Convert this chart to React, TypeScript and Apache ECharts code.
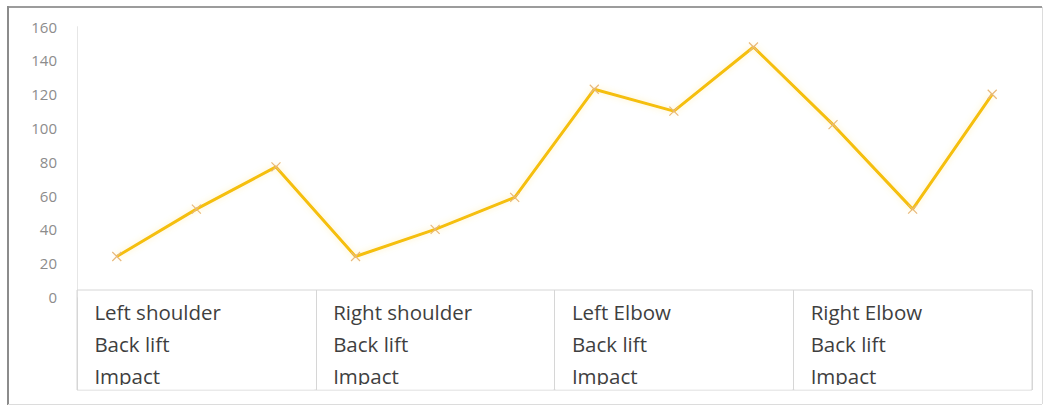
import React, { useEffect, useRef } from "react";
import * as echarts from "echarts";

// Joint groups along the bottom and the phases listed under each group name
const groups = ["Left shoulder", "Right shoulder", "Left Elbow", "Right Elbow"];
const phaseLines = ["Back lift", "Impact"];

// Three measurements per joint group
const points = [
  "LS-1", "LS-2", "LS-3",
  "RS-1", "RS-2", "RS-3",
  "LE-1", "LE-2", "LE-3",
  "RE-1", "RE-2", "RE-3",
];
const angles = [24, 52, 77, 24, 40, 59, 123, 110, 148, 102, 52, 120];

const yMin = 0;
const yMax = 160;
const yStep = 20;

const W = 1048;
const H = 409;

export default function App() {
  const ref = useRef<HTMLDivElement>(null);

  useEffect(() => {
    if (!ref.current) return;
    const chart = echarts.init(ref.current, null, { renderer: "svg" });

    const plotLeft = 77;
    const plotRight = 16;
    const plotWidth = W - plotLeft - plotRight;
    const boxTop = 290;
    const boxHeight = 100;
    const groupWidth = plotWidth / groups.length;

    // white strips just above the bottom edge of each group box, trimming the last text line
    const trims = groups.map((_, i) => ({
      type: "rect",
      z: 50,
      shape: {
        x: plotLeft + i * groupWidth + 1.3,
        y: boxTop + boxHeight - 5,
        width: groupWidth - 2.6,
        height: 4.5,
      },
      style: { fill: "#ffffff" },
    }));

    chart.setOption({
      animation: false,
      backgroundColor: "#ffffff",
      grid: [
        // value plot
        { left: plotLeft, right: plotRight, top: 26.7, height: 270.3 },
        // grouped category boxes
        {
          left: plotLeft,
          right: plotRight,
          top: boxTop,
          height: boxHeight,
          show: true,
          borderColor: "#d6d6d6",
          borderWidth: 1,
          backgroundColor: "transparent",
          z: 1,
        },
      ],
      xAxis: [
        {
          type: "category",
          gridIndex: 0,
          data: points,
          boundaryGap: true,
          axisLine: { show: false },
          axisTick: { show: false },
          axisLabel: { show: false },
          splitLine: { show: false },
        },
        {
          type: "category",
          gridIndex: 1,
          data: groups,
          position: "top",
          boundaryGap: true,
          axisLine: { show: false },
          axisTick: { show: false },
          splitLine: { show: true, interval: 0, lineStyle: { color: "#d6d6d6", width: 1 } },
          axisLabel: {
            inside: true,
            interval: 0,
            margin: 6,
            verticalAlign: "top",
            formatter: (v: string) =>
              [v, ...phaseLines].map((t) => `{a|${t}}`).join("\n"),
            rich: {
              a: {
                width: 204,
                align: "left",
                lineHeight: 32,
                fontSize: 20.5,
                fontFamily: "Open Sans",
                color: "#3f3f3f",
              },
            },
          },
        },
      ],
      yAxis: [
        {
          type: "value",
          gridIndex: 0,
          min: yMin,
          max: yMax,
          interval: yStep,
          axisLine: { show: true, lineStyle: { color: "#e6e6e6", width: 1 } },
          axisTick: { show: false },
          splitLine: { show: false },
          axisLabel: {
            margin: 20,
            fontSize: 15,
            fontFamily: "Open Sans",
            color: "#8c8c8c",
          },
        },
        {
          type: "value",
          gridIndex: 1,
          show: false,
          splitLine: { show: false },
        },
      ],
      series: [
        {
          type: "line",
          xAxisIndex: 0,
          yAxisIndex: 0,
          data: angles,
          symbol: "path://M0,0L10,10M0,10L10,0",
          symbolSize: 9,
          showSymbol: true,
          itemStyle: { color: "#f5bf0a", borderColor: "#e8b87a", borderWidth: 1.2 },
          lineStyle: {
            color: "#f5bf0a",
            width: 3,
            shadowColor: "rgba(255, 225, 110, 0.45)",
            shadowBlur: 6,
          },
          z: 3,
        },
      ],
      graphic: [
        ...trims,
        // outer frame
        { type: "line", shape: { x1: 8, y1: 7, x2: 1042, y2: 7 }, style: { stroke: "#9c9c9c", lineWidth: 2 } },
        { type: "line", shape: { x1: 8, y1: 6, x2: 8, y2: 405 }, style: { stroke: "#8c8c8c", lineWidth: 2 } },
        { type: "line", shape: { x1: 1042.5, y1: 7, x2: 1042.5, y2: 404 }, style: { stroke: "#dcdcdc", lineWidth: 1 } },
        { type: "line", shape: { x1: 8, y1: 404.5, x2: 1042, y2: 404.5 }, style: { stroke: "#dcdcdc", lineWidth: 1 } },
      ],
    });

    return () => chart.dispose();
  }, []);

  return (
    <div
      ref={ref}
      style={{ position: "fixed", left: 0, top: 0, width: W, height: H }}
    />
  );
}
